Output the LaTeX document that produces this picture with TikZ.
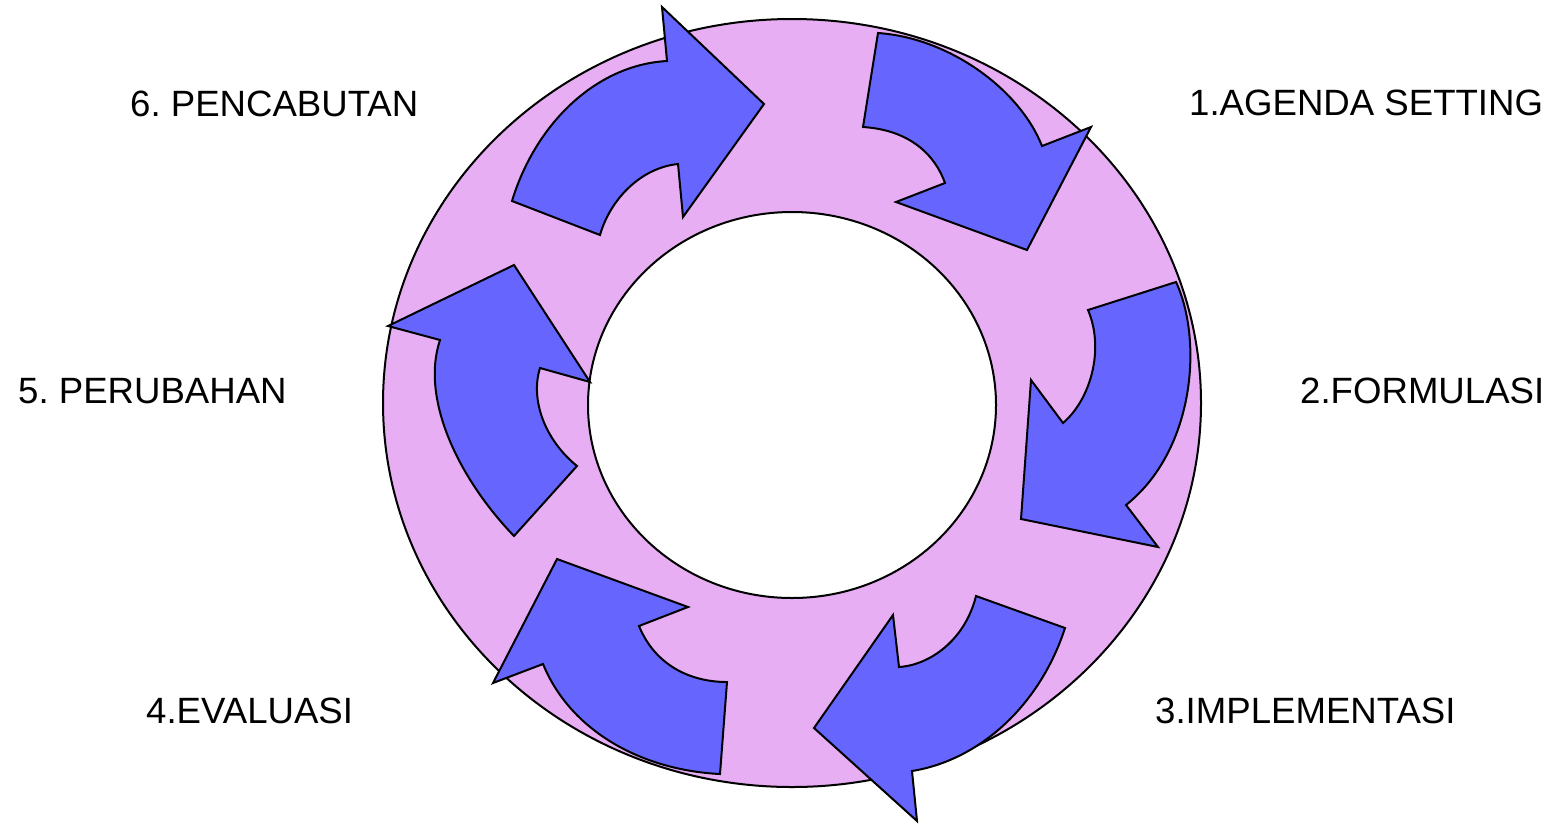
\documentclass[tikz,border=0pt]{standalone}
\usepackage{fontspec}
\setmainfont{Liberation Sans}
\definecolor{ringpink}{RGB}{231,174,243}
\definecolor{arrowblue}{RGB}{102,102,255}
\tikzset{
  ring/.style={draw=black, line width=2pt, fill=ringpink},
  hole/.style={draw=black, line width=2pt, fill=white},
  cyclearrow/.style={draw=black, line width=2pt, fill=arrowblue, line join=miter},
  label/.style={anchor=base west, inner sep=0pt, font=\fontsize{36.6}{44}\selectfont\frenchspacing, text=black}
}
\begin{document}
\begin{tikzpicture}[x=1pt,y=-1pt]
\useasboundingbox[fill=white] (0,0) rectangle (1557,823);
% ring
\draw[ring] (792,403) ellipse [x radius=409, y radius=384];
\draw[hole] (792,405) ellipse [x radius=204, y radius=193];
% arrow 1 (top right)
\draw[cyclearrow] (878,33) .. controls (950,38) and (1020,90) .. (1042,146)
  -- (1091,127) -- (1027,250) -- (896,202) -- (945,183)
  .. controls (935,155) and (910,130) .. (863,127) -- cycle;
% arrow 2 (right)
\draw[cyclearrow] (1176,282) .. controls (1203,340) and (1195,450) .. (1126,505)
  -- (1158,547) -- (1021,519) -- (1031,380) -- (1063,423)
  .. controls (1090,400) and (1105,350) .. (1088,310) -- cycle;
% arrow 3 (bottom right)
\draw[cyclearrow] (1065,628) .. controls (1040,705) and (980,760) .. (912,771)
  -- (917,821) -- (814,728) -- (893,615) -- (899,667)
  .. controls (930,665) and (965,640) .. (976,596) -- cycle;
% arrow 4 (bottom left)
\draw[cyclearrow] (720,774) .. controls (640,770) and (570,730) .. (543,664)
  -- (493,683) -- (557,559) -- (688,607) -- (639,626)
  .. controls (655,665) and (690,682) .. (727,682) -- cycle;
% arrow 5 (left)
\draw[cyclearrow] (514,536) .. controls (460,480) and (420,400) .. (440,340)
  -- (388,326) -- (514,265) -- (590,382) -- (540,368)
  .. controls (530,400) and (545,440) .. (577,466) -- cycle;
% arrow 6 (top left)
\draw[cyclearrow] (512,201) .. controls (535,125) and (595,65) .. (667,61)
  -- (662,7) -- (764,104) -- (683,217) -- (678,164)
  .. controls (640,168) and (610,200) .. (600,235) -- cycle;
% labels
\node[label] (l1) at (1189,115) {1.AGENDA SETTING};
\node[label] (l2) at (1300,403) {2.FORMULASI};
\node[label] (l3) at (1155,723) {3.IMPLEMENTASI};
\node[label] (l4) at (146,723) {4.EVALUASI};
\node[label] (l5) at (18,403) {5. PERUBAHAN};
\node[label] (l6) at (130,116) {6. PENCABUTAN};
\end{tikzpicture}
\end{document}
